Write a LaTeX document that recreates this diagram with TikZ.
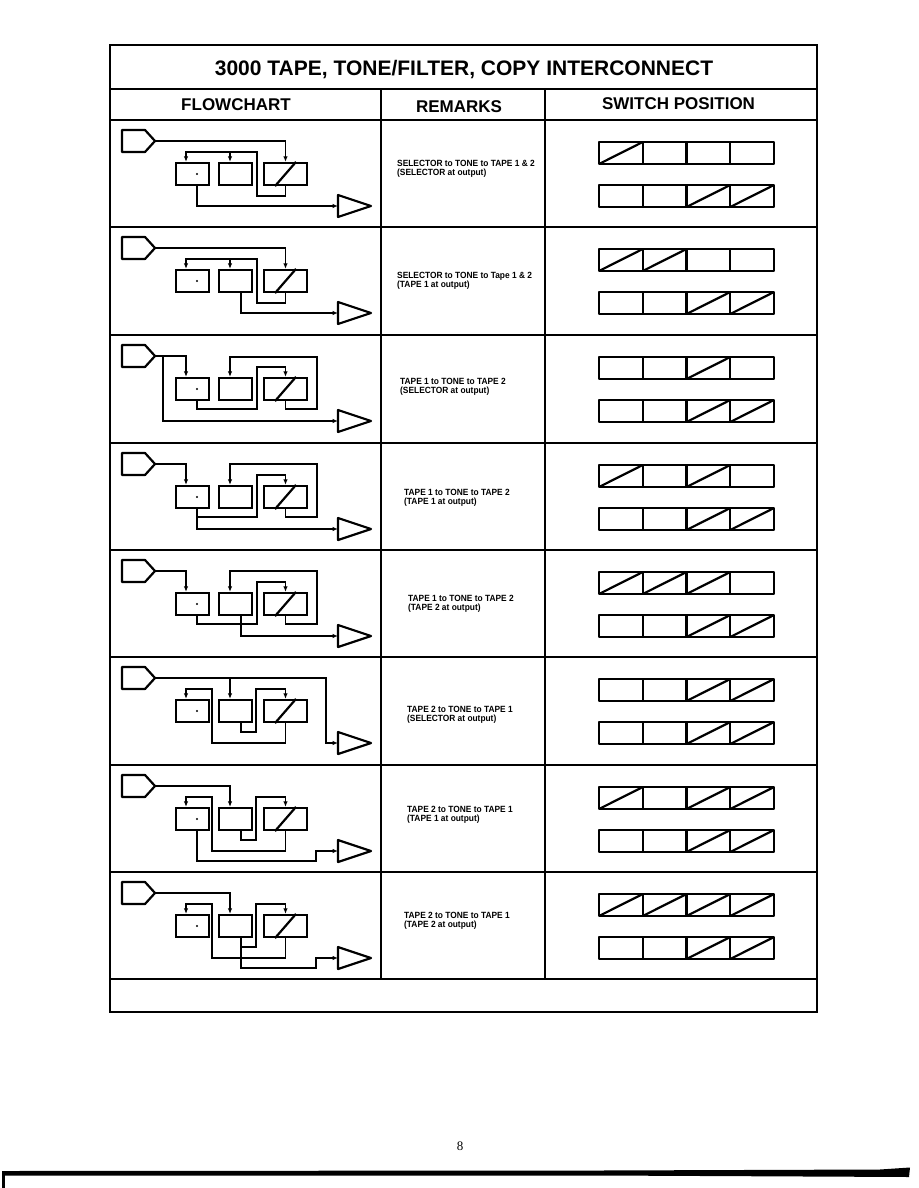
\documentclass[tikz,border=0pt]{standalone}
\usepackage{fontspec}
\setmainfont{Liberation Sans}
\newfontfamily\remfont[FakeStretch=0.93]{Liberation Sans}
\newfontfamily\numfont{Liberation Serif}
\usetikzlibrary{arrows.meta}
\tikzset{
 boxline/.style={line width=2.2pt, line join=round},
 fbox/.style={draw, line width=2.2pt, minimum height=22pt, inner sep=0pt},
 ghost/.style={minimum width=33pt, minimum height=22pt, inner sep=0pt, outer sep=0pt},
 arr/.style={line width=1.5pt, -{Latex[length=5.5pt,width=4.5pt]}},
 swline/.style={line width=2.2pt, line join=round},
 grid/.style={line width=2.4pt},
 remark/.style={font=\remfont\bfseries\fontsize{9}{9.4}\selectfont, align=left, inner sep=0pt, anchor=west},
 head/.style={font=\bfseries\fontsize{17}{20}\selectfont, inner sep=0pt, anchor=base},
}
\newcommand\srcnode[2]{\node[ghost] (#1) at (#2) {};
 \draw[boxline] (#1.north west) -- ([xshift=-10pt]#1.north east) -- (#1.east) -- ([xshift=-10pt]#1.south east) -- (#1.south west) -- cycle;}
\newcommand\outnode[2]{\node[ghost] (#1) at (#2) {};
 \draw[boxline] (#1.north west) -- (#1.east) -- (#1.south west) -- cycle;}
\newcommand\flowbase[1]{%
 \srcnode{#1in}{138.5,21}
 \node[fbox, minimum width=33pt] (#1b1) at (192.5,54) {};
 \fill ([xshift=4.5pt]#1b1.center) circle (1.1pt);
 \node[fbox, minimum width=33pt] (#1b2) at (235.5,54) {};
 \node[fbox, minimum width=43pt] (#1b3) at (285.5,54) {};
 \draw[boxline] ([xshift=-10.5pt]#1b3.south) -- ([xshift=10.5pt]#1b3.north);
 \outnode{#1out}{354.5,86}
 \coordinate (#1i1) at ([xshift=-6.5pt]#1b1.north);
 \coordinate (#1o1) at ([xshift=4.5pt]#1b1.south);
 \coordinate (#1i2) at ([xshift=-5.5pt]#1b2.north);
 \coordinate (#1o2) at ([xshift=5.5pt]#1b2.south);
}
\newcommand\swbar[3]{%
 \draw[swline] (599,#1) rectangle (774,#2);
 \foreach \k in {1,2,3} \draw[swline] ({599+43.75*\k},#1) -- ({599+43.75*\k},#2);
 \foreach \k in {#3} \draw[swline] ({599+43.75*(\k-1)},#2) -- ({599+43.75*\k},#1);}
\newcommand\switches[2]{\swbar{22}{44}{#1}\swbar{65}{87}{#2}}
\begin{document}
\begin{tikzpicture}[x=1pt,y=-1pt]
\useasboundingbox (0,0) rectangle (918,1188);
\fill[white] (0,0) rectangle (918,1188);
% table
\draw[line width=2.8pt] (110,45) rectangle (817,1012);
\foreach \yy in {89,120,227,335,443,550,657,765,872,979}
  \draw[grid] (110,\yy) -- (817,\yy);
\draw[grid] (381,89) -- (381,979);
\draw[grid] (545,89) -- (545,979);
\node[font=\bfseries\fontsize{21}{25}\selectfont, inner sep=0pt, anchor=base] (title) at (464,76) {3000 TAPE, TONE/FILTER, COPY INTERCONNECT};
\node[head] (hflow) at (236,111) {FLOWCHART};
\node[head] (hrem) at (459,113) {REMARKS};
\node[head] (hsw) at (678.5,110) {SWITCH POSITION};
% row 1
\begin{scope}[shift={(0,120)}]
 \flowbase{a}
 \draw[arr] (ain.east) -| (ab3.north);
 \draw[arr] (ab3.south) |- (257,76) -- (257,32) -| (ai1);
 \draw[arr] (ai2 |- 0,32) -- (ai2);
 \draw[arr] (ao1) |- (aout.west);
 \node[remark] (ra) at (397,48.5) {SELECTOR to TONE to TAPE 1 \& 2\\(SELECTOR at output)};
 \switches{1}{3,4}
\end{scope}
% row 2
\begin{scope}[shift={(0,227)}]
 \flowbase{b}
 \draw[arr] (bin.east) -| (bb3.north);
 \draw[arr] (bb3.south) |- (257,76) -- (257,32) -| (bi1);
 \draw[arr] (bi2 |- 0,32) -- (bi2);
 \draw[arr] (bo2) |- (bout.west);
 \node[remark] (rb) at (397,53.5) {SELECTOR to TONE to Tape 1 \& 2\\(TAPE 1 at output)};
 \switches{1,2}{3,4}
\end{scope}
% row 3
\begin{scope}[shift={(0,335)}]
 \flowbase{c}
 \coordinate (cj) at (163,21);
 \draw[arr] (cin.east) -| (ci1);
 \draw[arr] (cj) |- (cout.west);
 \draw[arr] (co1) |- (257,74) -- (257,32) -| (cb3.north);
 \draw[arr] (cb3.south) |- (317,74) -- (317,22) -| (ci2);
 \node[remark] (rc) at (400,51.5) {TAPE 1 to TONE to TAPE 2\\(SELECTOR at output)};
 \switches{3}{3,4}
\end{scope}
% row 4
\begin{scope}[shift={(0,443)}]
 \flowbase{d}
 \draw[arr] (din.east) -| (di1);
 \draw[arr] (do1) |- (257,74) -- (257,32) -| (db3.north);
 \draw[arr] (db3.south) |- (317,74) -- (317,21) -| (di2);
 \draw[arr] (do1) |- (dout.west);
 \node[remark] (rd) at (404,54.5) {TAPE 1 to TONE to TAPE 2\\(TAPE 1 at output)};
 \switches{1,3}{3,4}
\end{scope}
% row 5
\begin{scope}[shift={(0,550)}]
 \flowbase{e}
 \draw[arr] (ein.east) -| (ei1);
 \draw[arr] (eo1) |- (257,74) -- (257,32) -| (eb3.north);
 \draw[arr] (eb3.south) |- (317,74) -- (317,21) -| (ei2);
 \draw[arr] (eo2) |- (eout.west);
 \node[remark] (re) at (408,53.5) {TAPE 1 to TONE to TAPE 2\\(TAPE 2 at output)};
 \switches{1,2,3}{3,4}
\end{scope}
% row 6
\begin{scope}[shift={(0,657)}]
 \flowbase{f}
 \draw[arr] (fin.east) -| (326,86) -- (fout.west);
 \draw[arr] (fi2 |- fin.east) -- (fi2);
 \draw[arr] (fb3.south) |- (212,86) -- (212,32) -| (fi1);
 \draw[arr] (fo2) |- (256,75) -- (256,32) -| (fb3.north);
 \node[remark] (rf) at (407,57.5) {TAPE 2 to TONE to TAPE 1\\(SELECTOR at output)};
 \switches{3,4}{3,4}
\end{scope}
% row 7
\begin{scope}[shift={(0,765)}]
 \flowbase{g}
 \draw[arr] (gin.east) -| (gi2);
 \draw[arr] (gb3.south) |- (212,86) -- (212,32) -| (gi1);
 \draw[arr] (go2) |- (256,75) -- (256,32) -| (gb3.north);
 \draw[arr] (go1) |- (316,96) |- (gout.west);
 \node[remark] (rg) at (407,49.5) {TAPE 2 to TONE to TAPE 1\\(TAPE 1 at output)};
 \switches{1,3,4}{3,4}
\end{scope}
% row 8
\begin{scope}[shift={(0,872)}]
 \flowbase{h}
 \draw[arr] (hin.east) -| (hi2);
 \draw[arr] (hb3.south) |- (212,86) -- (212,32) -| (hi1);
 \draw[arr] (ho2) |- (256,75) -- (256,32) -| (hb3.north);
 \draw[arr] (ho2) |- (316,96) |- (hout.west);
 \node[remark] (rh) at (404,49) {TAPE 2 to TONE to TAPE 1\\(TAPE 2 at output)};
 \switches{1,2,3,4}{3,4}
\end{scope}
% page number and bottom rule
\node[font=\numfont\fontsize{13}{15}\selectfont, inner sep=0pt, anchor=base] (pg) at (460,1150) {8};
\fill (2,1171) -- (600,1170.5) -- (880,1169.5) -- (910,1167.5) -- (909,1177) -- (600,1175.5) -- (2,1175.5) -- cycle;
\fill (2,1172) rectangle (4.5,1188);
\end{tikzpicture}
\end{document}
